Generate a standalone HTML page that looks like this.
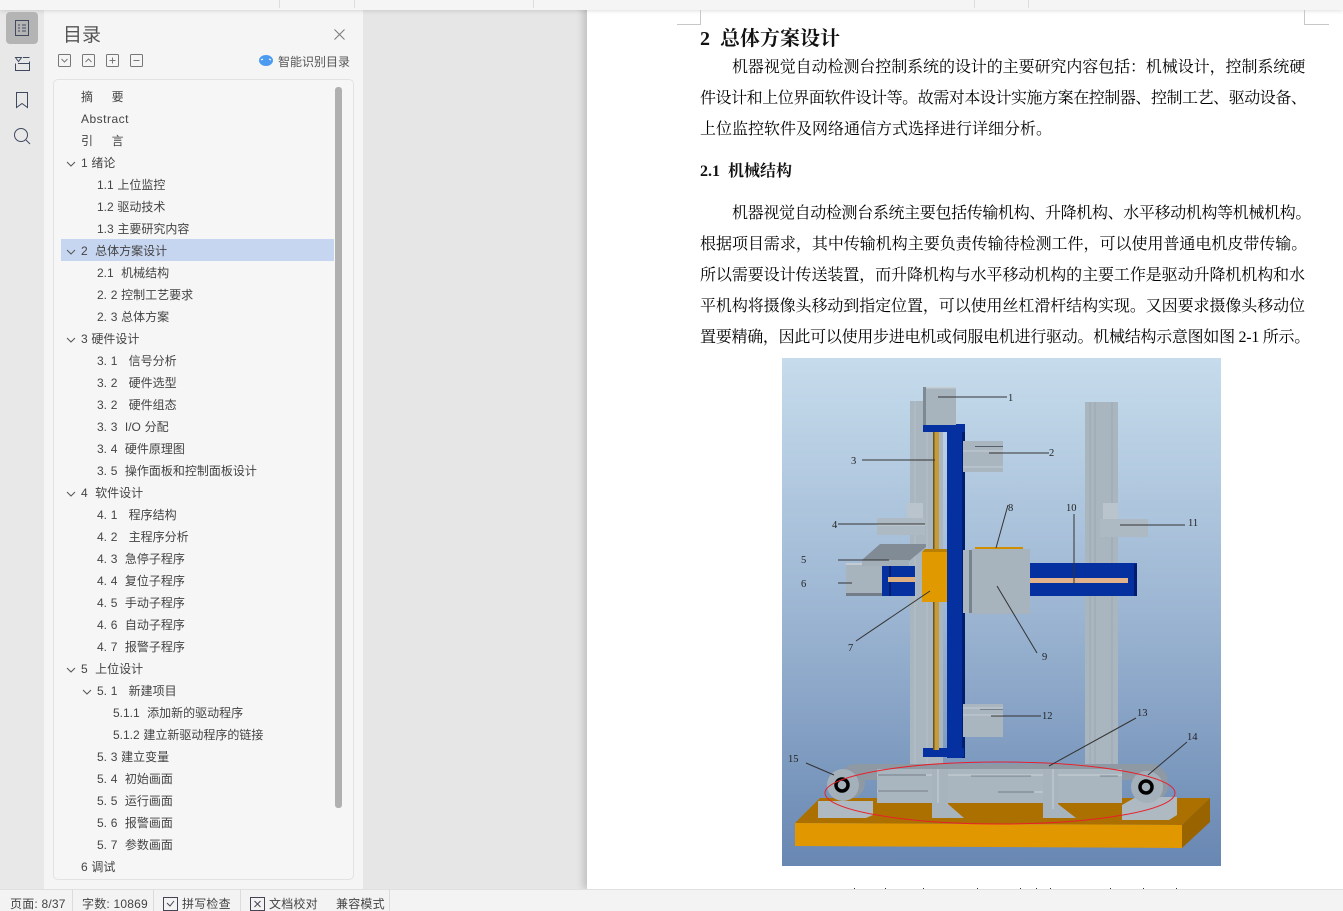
<!DOCTYPE html>
<html lang="zh"><head><meta charset="utf-8"><title>目录</title>
<style>
html,body{margin:0;padding:0;width:1343px;height:911px;overflow:hidden;background:#e6e6e6}
body{position:relative;font-family:"Liberation Sans","Noto Sans CJK SC",sans-serif}
.a{position:absolute}
.t{position:absolute;font-size:12px;line-height:22px;height:22px;color:#444;white-space:pre;margin-top:1px;word-spacing:.4px}
.p{position:absolute;left:700px;font-family:"Liberation Serif","Noto Serif CJK SC",serif;font-size:16px;line-height:24px;height:24px;color:#000;white-space:nowrap}
.p.i{left:732px}
.s{position:absolute;top:892px;height:22px;line-height:24px;font-size:12px;color:#444;white-space:pre;letter-spacing:.2px}
.d{position:absolute;top:889px;height:22px;width:1px;background:#dcdcdc}
</style></head><body>
<div class="a" style="left:587px;top:0;width:756px;height:889px;background:#fff;box-shadow:-4px 0 7px rgba(0,0,0,.16)"></div>
<div class="a" style="left:0;top:0;width:44px;height:889px;background:#e8e8e8"></div>
<div class="a" style="left:44px;top:0;width:319px;height:889px;background:#f5f5f5"></div>
<div class="a" style="left:0;top:0;width:1343px;height:10px;background:#f5f5f5;box-shadow:0 1px 4px rgba(0,0,0,.13)"></div>
<div class="a" style="left:279px;top:0;width:1px;height:8px;background:#ddd"></div>
<div class="a" style="left:354px;top:0;width:1px;height:8px;background:#ddd"></div>
<div class="a" style="left:533px;top:0;width:1px;height:8px;background:#ddd"></div>
<div class="a" style="left:974px;top:0;width:1px;height:8px;background:#ddd"></div>
<div class="a" style="left:1028px;top:0;width:1px;height:8px;background:#ddd"></div>
<div class="a" style="left:6px;top:12px;width:32px;height:32px;border-radius:4px;background:#b4b4b4"></div>

<svg class="a" style="left:0;top:0" width="364" height="150" fill="none" stroke="#3f4a5f" stroke-width="1">
<rect x="15.500" y="20.500" width="13" height="15"/><path d="M18 25h2M22 25h4M18 28h2M22 28h4M18 31h2M22 31h4"/>
<path d="M15.500 57.500h6l-3 4zM23 57.500h6.500M15.500 63.500v7h14v-9M18 63.500h11.500"/>
<path d="M16.500 92.500h11v15l-5.500-4-5.500 4z"/>
<circle cx="21" cy="135" r="6.500"/><path d="M26 140l4 4"/>
<path d="M334.500 29.500l10 10M344.500 29.500l-10 10" stroke="#777"/>
<g stroke="#777"><rect x="58.500" y="54.500" width="12" height="12" rx="1"/><path d="M61.500 59l3 3 3-3"/>
<rect x="82.500" y="54.500" width="12" height="12" rx="1"/><path d="M85.500 62l3-3 3 3"/>
<rect x="106.500" y="54.500" width="12" height="12" rx="1"/><path d="M109.500 60.500h6M112.500 57.500v6"/>
<rect x="130.500" y="54.500" width="12" height="12" rx="1"/><path d="M133.500 60.500h6"/></g>
<ellipse cx="266" cy="60.500" rx="7" ry="5.500" fill="#4d9bf0" stroke="none"/><path d="M261 60l2-1M269 59l2 1" stroke="#fff"/>
</svg>
<div class="a" style="left:63px;top:20px;font-size:19px;line-height:28px;color:#555;font-family:'Noto Sans CJK SC',sans-serif">目录</div>
<div class="t" style="left:278px;top:50px;color:#555">智能识别目录</div>

<div class="a" style="left:53px;top:79px;width:299px;height:799px;border:1px solid #e2e2e2;border-radius:5px;background:#f6f6f6"></div>
<div class="a" style="left:61px;top:239px;width:273px;height:22px;background:#c6d6f0"></div>
<div class="a" style="left:335px;top:87px;width:7px;height:721px;border-radius:3px;background:#b0b0b0"></div>

<div class="t" style="left:81px;top:85px">摘     要</div>
<div class="t" style="left:81px;top:107px;letter-spacing:.5px">Abstract</div>
<div class="t" style="left:81px;top:129px">引     言</div>
<div class="t" style="left:81px;top:151px">1 绪论</div>
<div class="t" style="left:97px;top:173px">1.1 上位监控</div>
<div class="t" style="left:97px;top:195px">1.2 驱动技术</div>
<div class="t" style="left:97px;top:217px">1.3 主要研究内容</div>
<div class="t" style="left:81px;top:239px">2  总体方案设计</div>
<div class="t" style="left:97px;top:261px">2.1  机械结构</div>
<div class="t" style="left:97px;top:283px">2. 2 控制工艺要求</div>
<div class="t" style="left:97px;top:305px">2. 3 总体方案</div>
<div class="t" style="left:81px;top:327px">3 硬件设计</div>
<div class="t" style="left:97px;top:349px">3. 1   信号分析</div>
<div class="t" style="left:97px;top:371px">3. 2   硬件选型</div>
<div class="t" style="left:97px;top:393px">3. 2   硬件组态</div>
<div class="t" style="left:97px;top:415px">3. 3  I/O 分配</div>
<div class="t" style="left:97px;top:437px">3. 4  硬件原理图</div>
<div class="t" style="left:97px;top:459px">3. 5  操作面板和控制面板设计</div>
<div class="t" style="left:81px;top:481px">4  软件设计</div>
<div class="t" style="left:97px;top:503px">4. 1   程序结构</div>
<div class="t" style="left:97px;top:525px">4. 2   主程序分析</div>
<div class="t" style="left:97px;top:547px">4. 3  急停子程序</div>
<div class="t" style="left:97px;top:569px">4. 4  复位子程序</div>
<div class="t" style="left:97px;top:591px">4. 5  手动子程序</div>
<div class="t" style="left:97px;top:613px">4. 6  自动子程序</div>
<div class="t" style="left:97px;top:635px">4. 7  报警子程序</div>
<div class="t" style="left:81px;top:657px">5  上位设计</div>
<div class="t" style="left:97px;top:679px">5. 1   新建项目</div>
<div class="t" style="left:113px;top:701px">5.1.1  添加新的驱动程序</div>
<div class="t" style="left:113px;top:723px">5.1.2 建立新驱动程序的链接</div>
<div class="t" style="left:97px;top:745px">5. 3 建立变量</div>
<div class="t" style="left:97px;top:767px">5. 4  初始画面</div>
<div class="t" style="left:97px;top:789px">5. 5  运行画面</div>
<div class="t" style="left:97px;top:811px">5. 6  报警画面</div>
<div class="t" style="left:97px;top:833px">5. 7  参数画面</div>
<div class="t" style="left:81px;top:855px">6 调试</div>
<svg class="a" style="left:60px;top:151px" width="40" height="550" fill="none" stroke="#555">
<path d="M7 11l4 4 4-4M7 99l4 4 4-4M7 187l4 4 4-4M7 341l4 4 4-4M7 517l4 4 4-4M23 539l4 4 4-4"/>
</svg>

<svg class="a" style="left:670px;top:0" width="673" height="30" fill="none" stroke="#c8c8c8"><path d="M7 24.500h23.500V10M634.500 10v14.500H659"/></svg>
<div class="a" style="left:700px;top:25px;height:28px;line-height:28px;font-family:'Liberation Serif','Noto Serif CJK SC',serif;font-size:20px;font-weight:700;color:#111;white-space:pre">2  总体方案设计</div>
<div class="p i" style="top:56px;letter-spacing:-.08px">机器视觉自动检测台控制系统的设计的主要研究内容包括：机械设计，控制系统硬</div>
<div class="p" style="top:87px;letter-spacing:-.45px">件设计和上位界面软件设计等。故需对本设计实施方案在控制器、控制工艺、驱动设备、</div>
<div class="p" style="top:118px">上位监控软件及网络通信方式选择进行详细分析。</div>
<div class="a" style="left:700px;top:160px;height:24px;line-height:24px;font-family:'Liberation Serif','Noto Serif CJK SC',serif;font-size:16px;font-weight:700;color:#111;white-space:pre">2.1  机械结构</div>
<div class="p i" style="top:202px;letter-spacing:-.35px">机器视觉自动检测台系统主要包括传输机构、升降机构、水平移动机构等机械机构。</div>
<div class="p" style="top:233px;letter-spacing:-.02px">根据项目需求，其中传输机构主要负责传输待检测工件，可以使用普通电机皮带传输。</div>
<div class="p" style="top:264px;letter-spacing:-.08px">所以需要设计传送装置，而升降机构与水平移动机构的主要工作是驱动升降机机构和水</div>
<div class="p" style="top:295px;letter-spacing:-.08px">平机构将摄像头移动到指定位置，可以使用丝杠滑杆结构实现。又因要求摄像头移动位</div>
<div class="p" style="top:326px;letter-spacing:-.27px">置要精确，因此可以使用步进电机或伺服电机进行驱动。机械结构示意图如图 2-1 所示。</div>

<svg class="a" style="left:0;top:0" width="1343" height="911">
<defs><linearGradient id="g" x1="0" y1="0" x2="0" y2="1"><stop offset="0" stop-color="#c6dcec"/><stop offset=".5" stop-color="#9cb5d2"/><stop offset="1" stop-color="#6887b2"/></linearGradient></defs>
<rect x="782" y="358" width="439" height="508" fill="url(#g)"/>
<!-- columns -->
<rect x="910" y="401" width="33" height="372" fill="#a9b5bf"/><path d="M915 401v370M927 401v370" stroke="#b4bfc8"/>
<rect x="1085" y="402" width="33" height="372" fill="#a9b5bf"/><path d="M1090 402v370M1095 402v370M1112 402v370" stroke="#9aa6b0"/>
<!-- brackets 4, 11 -->
<rect x="877" y="518" width="48" height="17" fill="#aebac3"/><rect x="907" y="503" width="16" height="15" fill="#bac4cc"/><path d="M877 525h48" stroke="#c5ced5"/>
<rect x="1100" y="519" width="48" height="18" fill="#aebac3"/><rect x="1103" y="503" width="15" height="16" fill="#bac4cc"/>
<!-- vertical blue -->
<rect x="947" y="424" width="18" height="334" fill="#0530a0"/><rect x="962" y="424" width="3" height="334" fill="#021c70"/>
<rect x="923" y="424" width="42" height="8" fill="#0530a0"/>
<rect x="923" y="748" width="41" height="9" fill="#0530a0"/>
<rect x="933" y="432" width="6" height="318" fill="#c49c3c"/><rect x="933" y="432" width="1.500" height="318" fill="#6a5520"/>
<rect x="923" y="387" width="33" height="38" fill="#a7b3bd"/><rect x="923" y="387" width="3" height="38" fill="#7d8993"/><rect x="926" y="387" width="30" height="1.500" fill="#c3ccd3"/>
<!-- bracket 2, 12 -->
<rect x="963" y="441" width="40" height="31" fill="#aab6bf"/><path d="M963 451h40M963 467h40" stroke="#c3ccd3"/><path d="M975 446.500h28" stroke="#56616b"/>
<rect x="963" y="704" width="40" height="33" fill="#aab6bf"/><path d="M963 708h40M963 715h40" stroke="#c3ccd3"/><path d="M980 709.500h23" stroke="#77828c"/>
<!-- horizontal left -->
<rect x="882" y="566" width="33" height="30" fill="#0530a0"/><rect x="889" y="566" width="2" height="30" fill="#021c70"/>
<rect x="888" y="577" width="27" height="5" fill="#dcae80"/>
<rect x="846" y="563" width="36" height="33" fill="#a7b3bd"/><rect x="846" y="593" width="36" height="3" fill="#727d87"/><rect x="846" y="563" width="36" height="2" fill="#c3ccd3"/>
<path d="M862 560L880 544H926V547L909 561V566H862Z" fill="#808b95"/><path d="M862 560H909V566H862Z" fill="#a2aeb8"/>
<rect x="922" y="552" width="25" height="50" fill="#e09a00"/><path d="M922 552l3-3h22v3z" fill="#b87f00"/>
<!-- horizontal right -->
<rect x="1030" y="563" width="107" height="33" fill="#0530a0"/><rect x="1134" y="564" width="3" height="32" fill="#021c70"/>
<rect x="1030" y="578" width="98" height="5" fill="#e3b48c"/>
<rect x="963" y="550" width="9" height="63" fill="#aab6bf"/><rect x="969" y="550" width="3" height="63" fill="#77838d"/>
<rect x="972" y="549" width="58" height="65" fill="#a7b3bd"/>
<rect x="975" y="547" width="48" height="2" fill="#cf8d00"/>
<!-- base -->
<path d="M795 823L820 798H1210L1182 825Z" fill="#ac7000"/>
<path d="M1182 825L1210 798V822L1182 848Z" fill="#996300"/>
<path d="M795 823L1182 825V848L795 846Z" fill="#e09700"/>
<!-- conveyor -->
<path d="M843 770Q848 764 856 764H1152Q1160 764 1167 775V780H843Z" fill="#8e99a4"/>
<ellipse cx="851" cy="783" rx="14" ry="15" fill="#8e99a4"/><ellipse cx="1155" cy="785" rx="13" ry="15" fill="#8e99a4"/>
<rect x="877" y="769" width="245" height="34" fill="#aab6bf"/>
<path d="M877 775h245M877 791h50M1000 792h45M1000 775h60" stroke="#c9d1d7"/>
<path d="M878 775h48M878 791h50M971 776h60M998 792h36M1100 776h18" stroke="#747f89"/>
<path d="M932 769h16v35l16 14h-32z" fill="#a7b3bd"/><path d="M1043 769h15v35l18 14h-33z" fill="#a7b3bd"/>
<path d="M938 769v34M1053 769v40" stroke="#c9d1d7"/>
<path d="M818 801h55v14l-7 3h-48z" fill="#aeb9c2"/><path d="M1122 805l14-8h41v18l-8 5h-47z" fill="#aeb9c2"/>
<ellipse cx="843" cy="785" rx="16" ry="16" fill="#a4b0ba"/><circle cx="842" cy="785" r="6" fill="none" stroke="#000" stroke-width="3.500"/>
<ellipse cx="1147" cy="787" rx="16" ry="16" fill="#a4b0ba"/><circle cx="1146" cy="787" r="6" fill="none" stroke="#000" stroke-width="3.500"/>
<ellipse cx="1000" cy="793" rx="175" ry="31" fill="none" stroke="#e8202a" stroke-width="1"/>
<!-- leader lines -->
<g stroke="#333" stroke-width="1" fill="none">
<path d="M938 397H1007M989 453H1049M862 460H935M838 524H925M838 560H889M838 583H852M856 641L930 591M1008 505L996 548M1074 514V584M997 586L1037 653M1120 525H1185M991 716H1041M1049 766L1136 718M1148 775L1187 742M806 763L834 775"/>
</g>
<g font-family="Liberation Serif,serif" font-size="10.500" fill="#222">
<text x="1008" y="401">1</text><text x="1049" y="456">2</text><text x="851" y="464">3</text><text x="832" y="528">4</text><text x="801" y="563">5</text><text x="801" y="587">6</text><text x="848" y="651">7</text><text x="1008" y="511">8</text><text x="1042" y="660">9</text><text x="1066" y="511">10</text><text x="1188" y="526">11</text><text x="1042" y="719">12</text><text x="1137" y="716">13</text><text x="1187" y="740">14</text><text x="788" y="762">15</text>
</g>
<g fill="#333"><rect x="854" y="888" width="1" height="1"/><rect x="885" y="888" width="1" height="1"/><rect x="923" y="888" width="1" height="1"/><rect x="977" y="888" width="1" height="1"/><rect x="1020" y="888" width="1" height="1"/><rect x="1036" y="888" width="1" height="1"/><rect x="1050" y="888" width="1" height="1"/><rect x="1110" y="888" width="1" height="1"/><rect x="1143" y="888" width="1" height="1"/><rect x="1176" y="888" width="1" height="1"/></g>
</svg>

<div class="a" style="left:0;top:889px;width:1343px;height:22px;background:#f3f3f3;border-top:1px solid #e0e0e0;box-sizing:border-box"></div>
<div class="s" style="left:10px">页面: 8/37</div><div class="d" style="left:72px"></div>
<div class="s" style="left:82px">字数: 10869</div><div class="d" style="left:153px"></div>
<svg class="a" style="left:163px;top:897px" width="103" height="14" fill="none" stroke="#445"><path d="M.5.5h14v13H.5zM4 6l3 3 4-5"/><path d="M87.500.500h14v13h-14zM91.500 4l6 6M97.500 4l-6 6"/></svg>
<div class="s" style="left:182px">拼写检查</div><div class="d" style="left:240px"></div>
<div class="s" style="left:269px">文档校对</div>
<div class="s" style="left:336px">兼容模式</div><div class="d" style="left:389px"></div>
</body></html>
